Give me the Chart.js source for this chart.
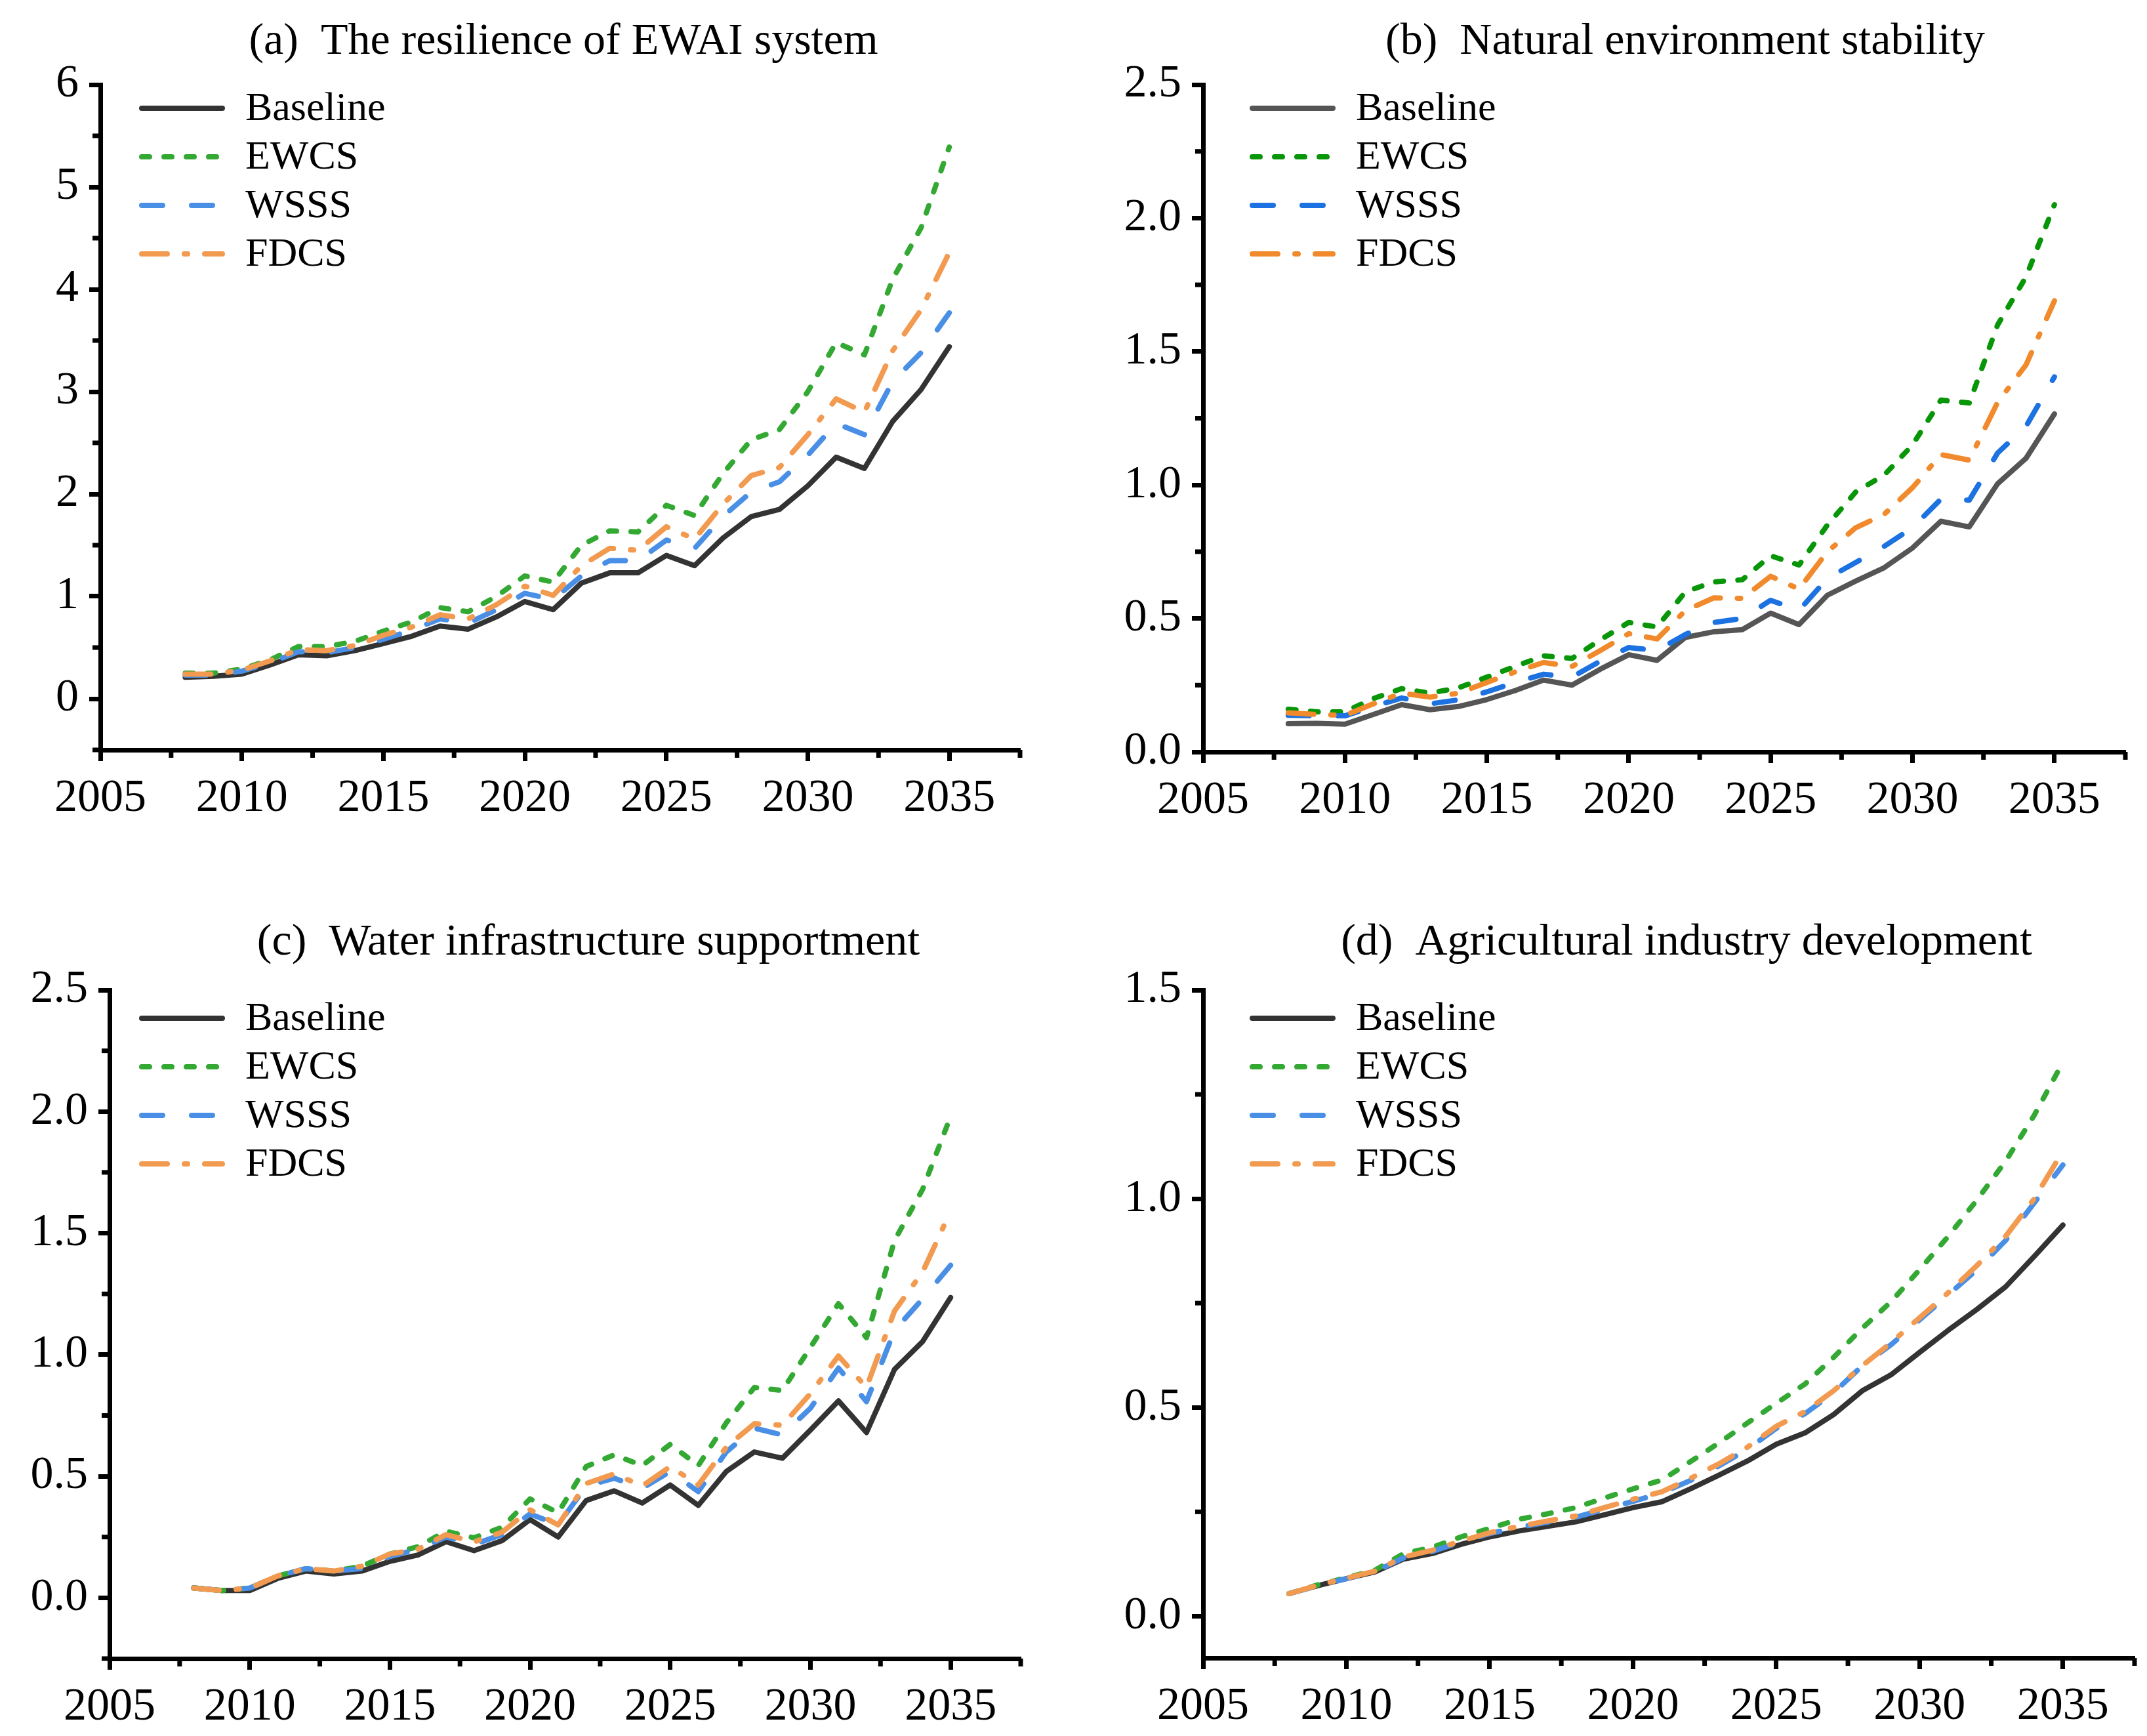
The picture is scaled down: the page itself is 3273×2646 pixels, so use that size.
<!DOCTYPE html>
<html>
<head>
<meta charset="utf-8">
<script src="https://cdn.jsdelivr.net/npm/chart.js@4.4.1/dist/chart.umd.min.js"></script>
<style>
  html, body { margin: 0; padding: 0; background: #fff; }
  body { width: 3273px; height: 2646px; position: relative; overflow: hidden; }
  .panel { position: absolute; }
</style>
</head>
<body>
<div class="panel" id="pa"><canvas id="ca"></canvas></div>
<div class="panel" id="pb"><canvas id="cb"></canvas></div>
<div class="panel" id="pc"><canvas id="cc"></canvas></div>
<div class="panel" id="pd"><canvas id="cd"></canvas></div>
<script>
// ---- data ----
const years = [2008, 2009, 2010, 2011, 2012, 2013, 2014, 2015, 2016, 2017, 2018, 2019, 2020, 2021,
               2022, 2023, 2024, 2025, 2026, 2027, 2028, 2029, 2030, 2031, 2032, 2033, 2034, 2035];
const seriesNames = ['Baseline', 'EWCS', 'WSSS', 'FDCS'];
const xTickLabels = [2005, 2010, 2015, 2020, 2025, 2030, 2035];
const xMinorTicks = [2007.5, 2012.5, 2017.5, 2022.5, 2027.5, 2032.5, 2037.5];

// (a) The resilience of EWAI system
const aBaseline = [0.21, 0.22, 0.24, 0.33, 0.43, 0.42, 0.47, 0.54, 0.61, 0.71, 0.68, 0.80, 0.95, 0.87,
                   1.13, 1.23, 1.23, 1.40, 1.30, 1.57, 1.78, 1.85, 2.08, 2.36, 2.25, 2.71, 3.02, 3.44];
const aEWCS     = [0.25, 0.25, 0.29, 0.38, 0.51, 0.51, 0.56, 0.66, 0.75, 0.89, 0.85, 1.00, 1.20, 1.14,
                   1.50, 1.64, 1.63, 1.89, 1.79, 2.20, 2.53, 2.63, 3.00, 3.48, 3.36, 4.10, 4.60, 5.39];
const aWSSS     = [0.23, 0.23, 0.27, 0.35, 0.46, 0.45, 0.50, 0.58, 0.67, 0.78, 0.74, 0.87, 1.03, 0.97,
                   1.20, 1.35, 1.35, 1.55, 1.47, 1.78, 2.02, 2.12, 2.38, 2.69, 2.58, 3.10, 3.38, 3.77];
const aFDCS     = [0.24, 0.24, 0.28, 0.37, 0.48, 0.47, 0.52, 0.62, 0.70, 0.82, 0.78, 0.92, 1.10, 1.01,
                   1.30, 1.47, 1.45, 1.68, 1.56, 1.90, 2.18, 2.26, 2.58, 2.93, 2.80, 3.40, 3.80, 4.36];

// (b) Natural environment stability
const bBaseline = [0.106, 0.107, 0.104, 0.14, 0.177, 0.158, 0.17, 0.196, 0.23, 0.269, 0.25, 0.31, 0.364, 0.343,
                   0.429, 0.45, 0.458, 0.52, 0.477, 0.587, 0.64, 0.69, 0.764, 0.864, 0.843, 1.005, 1.10, 1.266];
const bEWCS     = [0.16, 0.15, 0.15, 0.20, 0.237, 0.22, 0.24, 0.28, 0.32, 0.36, 0.35, 0.42, 0.485, 0.468,
                   0.60, 0.637, 0.645, 0.735, 0.70, 0.85, 0.974, 1.037, 1.15, 1.318, 1.307, 1.60, 1.78, 2.05];
const bWSSS     = [0.137, 0.135, 0.135, 0.17, 0.202, 0.18, 0.195, 0.225, 0.26, 0.291, 0.28, 0.34, 0.391, 0.38,
                   0.44, 0.485, 0.50, 0.568, 0.53, 0.65, 0.71, 0.77, 0.84, 0.947, 0.943, 1.12, 1.22, 1.405];
const bFDCS     = [0.146, 0.14, 0.137, 0.18, 0.22, 0.205, 0.22, 0.26, 0.30, 0.335, 0.32, 0.38, 0.443, 0.423,
                   0.53, 0.577, 0.575, 0.658, 0.61, 0.75, 0.84, 0.89, 0.99, 1.114, 1.093, 1.31, 1.45, 1.69];

// (c) Water infrastructure supportment
const cBaseline = [0.041, 0.03, 0.03, 0.08, 0.11, 0.098, 0.11, 0.15, 0.176, 0.231, 0.194, 0.235, 0.322, 0.25,
                   0.40, 0.44, 0.39, 0.464, 0.38, 0.52, 0.60, 0.574, 0.69, 0.81, 0.68, 0.94, 1.054, 1.235];
const cEWCS     = [0.04, 0.03, 0.04, 0.09, 0.12, 0.11, 0.13, 0.18, 0.21, 0.274, 0.247, 0.29, 0.407, 0.35,
                   0.54, 0.588, 0.544, 0.631, 0.544, 0.72, 0.865, 0.853, 1.03, 1.21, 1.07, 1.47, 1.68, 1.98];
const cWSSS     = [0.04, 0.03, 0.04, 0.09, 0.12, 0.11, 0.12, 0.17, 0.20, 0.25, 0.22, 0.26, 0.345, 0.30,
                   0.46, 0.492, 0.45, 0.52, 0.437, 0.60, 0.698, 0.67, 0.78, 0.945, 0.807, 1.10, 1.23, 1.368];
const cFDCS     = [0.04, 0.03, 0.04, 0.09, 0.12, 0.11, 0.13, 0.18, 0.20, 0.26, 0.23, 0.27, 0.362, 0.30,
                   0.47, 0.51, 0.46, 0.54, 0.464, 0.62, 0.716, 0.71, 0.84, 0.995, 0.865, 1.18, 1.34, 1.59];

// (d) Agricultural industry development
const dBaseline = [0.054, 0.073, 0.09, 0.106, 0.137, 0.15, 0.172, 0.19, 0.204, 0.215, 0.226, 0.243, 0.26, 0.274,
                   0.305, 0.338, 0.372, 0.412, 0.439, 0.483, 0.54, 0.578, 0.632, 0.685, 0.735, 0.789, 0.862, 0.937];
const dEWCS     = [0.054, 0.075, 0.092, 0.11, 0.15, 0.165, 0.19, 0.21, 0.232, 0.245, 0.26, 0.283, 0.305, 0.326,
                   0.37, 0.415, 0.463, 0.51, 0.556, 0.62, 0.69, 0.753, 0.83, 0.91, 0.997, 1.09, 1.20, 1.327];
const dWSSS     = [0.054, 0.073, 0.09, 0.107, 0.14, 0.155, 0.178, 0.198, 0.213, 0.225, 0.237, 0.256, 0.275, 0.295,
                   0.325, 0.36, 0.40, 0.45, 0.485, 0.535, 0.60, 0.65, 0.71, 0.77, 0.83, 0.90, 0.99, 1.081];
const dFDCS     = [0.054, 0.074, 0.091, 0.108, 0.142, 0.158, 0.18, 0.20, 0.215, 0.228, 0.24, 0.26, 0.28, 0.298,
                   0.33, 0.365, 0.405, 0.455, 0.49, 0.54, 0.60, 0.655, 0.715, 0.775, 0.84, 0.91, 1.00, 1.114];

const aYTicks = [0, 1, 2, 3, 4, 5, 6];
const aYMinor = [-0.5, 0.5, 1.5, 2.5, 3.5, 4.5, 5.5];
const bYTicks = [0, 0.5, 1.0, 1.5, 2.0, 2.5];
const bYMinor = [0.25, 0.75, 1.25, 1.75, 2.25];
const cYTicks = [0, 0.5, 1.0, 1.5, 2.0, 2.5];
const cYMinor = [-0.25, 0.25, 0.75, 1.25, 1.75, 2.25];
const dYTicks = [0, 0.5, 1.0, 1.5];
const dYMinor = [0.25, 0.75, 1.25];

// ---- styles ----
const FONT = '"Liberation Serif", "Times New Roman", serif';
const paletteLight = ['#333333', '#33a933', '#4a8fe6', '#f29a50'];
const paletteDark  = ['#555555', '#089608', '#1c72e0', '#f08a2c'];
const dashes = [[], [12, 22], [32, 44], [39, 26, 5, 26]];

// title, minor ticks and the in-plot legend
const extras = {
  id: 'extras',
  afterDraw(chart, args, opts) {
    const ctx = chart.ctx;
    const xs = chart.scales.x, ys = chart.scales.y;
    const area = chart.chartArea;
    ctx.save();

    // title, centred where the original puts it
    ctx.fillStyle = '#000';
    ctx.font = '68px ' + FONT;
    ctx.textAlign = 'center';
    ctx.textBaseline = 'middle';
    ctx.fillText(opts.title, opts.titleX, opts.titleY);

    ctx.strokeStyle = '#000';
    ctx.lineWidth = 7;
    ctx.lineCap = 'butt';
    opts.xMinor.forEach(v => {
      const px = xs.getPixelForValue(v);
      ctx.beginPath(); ctx.moveTo(px, area.bottom); ctx.lineTo(px, area.bottom + 12); ctx.stroke();
    });
    opts.yMinor.forEach(v => {
      if (v < ys.min || v > ys.max) return;
      const py = ys.getPixelForValue(v);
      ctx.beginPath(); ctx.moveTo(area.left, py); ctx.lineTo(area.left - 12, py); ctx.stroke();
    });

    // legend
    const lx = area.left + opts.legendX;
    let ly = area.top + opts.legendY;
    ctx.font = '62px ' + FONT;
    ctx.textAlign = 'left';
    chart.data.datasets.forEach(ds => {
      ctx.strokeStyle = ds.borderColor;
      ctx.lineWidth = ds.borderWidth;
      ctx.lineCap = 'round';
      ctx.setLineDash(ds.borderDash || []);
      ctx.beginPath(); ctx.moveTo(lx + 4, ly); ctx.lineTo(lx + 127, ly); ctx.stroke();
      ctx.setLineDash([]);
      ctx.fillStyle = '#000';
      ctx.fillText(ds.label, lx + 162, ly + 2);
      ly += 74;
    });
    ctx.restore();
  }
};

function makePanel(p) {
  const div = document.getElementById(p.div);
  const left = p.L - 150;
  const top = p.titleY - 70;
  const right = p.R + 60;
  div.style.left = left + 'px';
  div.style.top = top + 'px';
  div.style.width = (right - left) + 'px';
  div.style.height = (p.B + 120 - top) + 'px';

  const datasets = p.series.map((vals, i) => ({
    label: seriesNames[i],
    data: years.map((y, k) => ({ x: y, y: vals[k] })),
    borderColor: p.colors[i],
    backgroundColor: p.colors[i],
    borderWidth: 8,
    borderDash: dashes[i],
    borderCapStyle: 'round',
    borderJoinStyle: 'round',
    pointRadius: 0,
    tension: 0,
    fill: false,
    order: 4 - i
  }));

  new Chart(document.getElementById(p.canvas), {
    type: 'line',
    data: { datasets },
    plugins: [extras],
    options: {
      responsive: true,
      maintainAspectRatio: false,
      devicePixelRatio: 1,
      animation: false,
      layout: { padding: { left: 0, top: p.T - top, bottom: 0, right: right - p.R } },
      plugins: {
        legend: { display: false },
        tooltip: { enabled: false },
        title: { display: false },
        extras: { title: p.title, titleX: p.titleX - left, titleY: p.titleY - top,
                  xMinor: xMinorTicks, yMinor: p.yMinor, legendX: p.legendX, legendY: p.legendY }
      },
      scales: {
        x: {
          type: 'linear',
          min: 2005,
          max: 2037.5,
          afterFit: axis => { axis.height = 120; },
          afterBuildTicks: axis => { axis.ticks = xTickLabels.map(v => ({ value: v })); },
          grid: { display: true, drawOnChartArea: false, drawTicks: true, tickLength: 17, tickWidth: 7, tickColor: '#000' },
          border: { display: true, color: '#000', width: 7 },
          ticks: { color: '#000', padding: 16, maxRotation: 0, autoSkip: false,
                   font: { family: FONT, size: 70 }, callback: v => String(v) }
        },
        y: {
          type: 'linear',
          min: p.yMin,
          max: p.yMax,
          afterFit: axis => { axis.width = 150; },
          afterBuildTicks: axis => { axis.ticks = p.yTicks.map(v => ({ value: v })); },
          grid: { display: true, drawOnChartArea: false, drawTicks: true, tickLength: 17, tickWidth: 7, tickColor: '#000' },
          border: { display: true, color: '#000', width: 7 },
          ticks: { color: '#000', padding: 16, autoSkip: false,
                   font: { family: FONT, size: 70 }, callback: v => v.toFixed(p.decimals) }
        }
      }
    }
  });
}

makePanel({ div: 'pa', canvas: 'ca', title: '(a)  The resilience of EWAI system',
  L: 153, R: 1555, T: 129, B: 1143, titleX: 859, titleY: 64,
  yMin: -0.5, yMax: 6, yTicks: aYTicks, yMinor: aYMinor, decimals: 0,
  legendX: 59, legendY: 36, colors: paletteLight, series: [aBaseline, aEWCS, aWSSS, aFDCS] });

makePanel({ div: 'pb', canvas: 'cb', title: '(b)  Natural environment stability',
  L: 1834, R: 3240, T: 129, B: 1146, titleX: 2569, titleY: 64,
  yMin: 0, yMax: 2.5, yTicks: bYTicks, yMinor: bYMinor, decimals: 1,
  legendX: 71, legendY: 36, colors: paletteDark, series: [bBaseline, bEWCS, bWSSS, bFDCS] });

makePanel({ div: 'pc', canvas: 'cc', title: '(c)  Water infrastructure supportment',
  L: 167, R: 1556, T: 1509, B: 2528, titleX: 897, titleY: 1437,
  yMin: -0.25, yMax: 2.5, yTicks: cYTicks, yMinor: cYMinor, decimals: 1,
  legendX: 45, legendY: 43, colors: paletteLight, series: [cBaseline, cEWCS, cWSSS, cFDCS] });

makePanel({ div: 'pd', canvas: 'cd', title: '(d)  Agricultural industry development',
  L: 1834, R: 3254, T: 1509, B: 2527, titleX: 2571, titleY: 1437,
  yMin: -0.1, yMax: 1.5, yTicks: dYTicks, yMinor: dYMinor, decimals: 1,
  legendX: 71, legendY: 43, colors: paletteLight, series: [dBaseline, dEWCS, dWSSS, dFDCS] });
</script>
</body>
</html>
